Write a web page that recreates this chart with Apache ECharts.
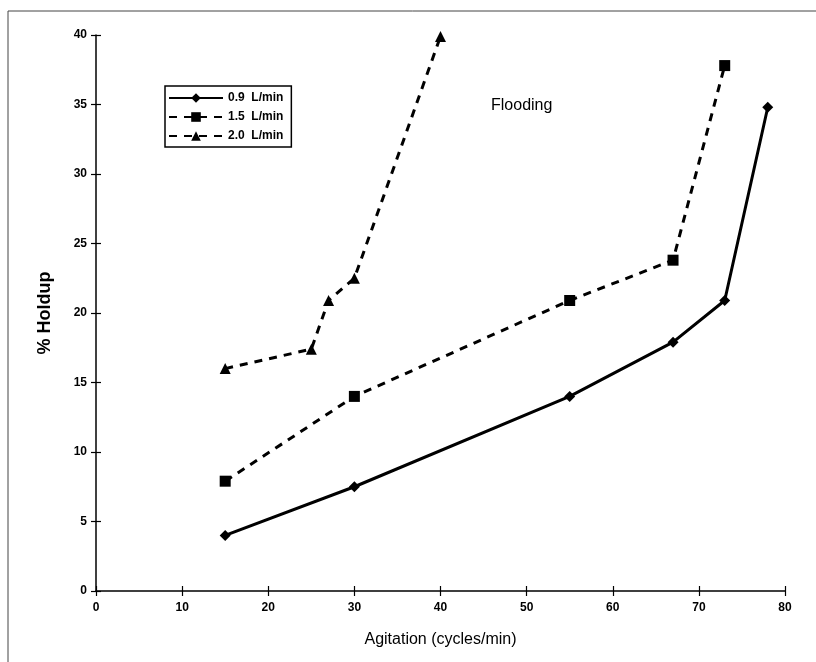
<!DOCTYPE html>
<html>
<head>
<meta charset="utf-8">
<script src="https://cdn.jsdelivr.net/npm/echarts@6/dist/echarts.min.js"></script>
<style>
  html, body { margin: 0; padding: 0; background: #fff; }
  #chart { width: 816px; height: 662px; }
</style>
</head>
<body>
<div id="chart"></div>
<script>
// data
const flow09 = [[15, 4.0], [30, 7.5], [55, 14.0], [67, 17.9], [73, 20.9], [78, 34.8]];
const flow15 = [[15, 7.9], [30, 14.0], [55, 20.9], [67, 23.8], [73, 37.8]];
const flow20 = [[15, 16.0], [25, 17.4], [27, 20.9], [30, 22.5], [40, 39.9]];
const seriesNames = ['0.9  L/min', '1.5  L/min', '2.0  L/min'];
const noteText = 'Flooding';

let myChart = echarts.init(document.getElementById('chart'));

const labelFont = { color: '#000', fontFamily: 'Liberation Sans', fontWeight: 'bold', fontSize: 12 };

myChart.setOption({
  animation: false,
  backgroundColor: '#fff',
  grid: { left: 96, right: 31, top: 35, bottom: 71 },
  legend: {
    orient: 'vertical',
    left: 165,
    top: 86,
    itemWidth: 54,
    itemHeight: 12,
    itemGap: 7,
    padding: [6, 8, 5, 3],
    borderColor: '#000',
    borderWidth: 1.5,
    textStyle: labelFont,
    data: seriesNames
  },
  graphic: [
    { type: 'rect', shape: { x: 8, y: 11, width: 830, height: 700 }, style: { fill: 'none', stroke: '#444', lineWidth: 1 }, silent: true },
    { type: 'text', left: 491, top: 98, style: { text: noteText, fill: '#000', font: '16px "Liberation Sans"' } }
  ],
  xAxis: [{
    type: 'value',
    min: 0, max: 80, interval: 10,
    name: 'Agitation (cycles/min)',
    nameLocation: 'middle',
    nameGap: 41,
    nameTextStyle: { color: '#000', fontFamily: 'Liberation Sans', fontSize: 16 },
    axisLine: { lineStyle: { color: '#000', width: 1.5 } },
    axisTick: { show: true, length: 5, lineStyle: { color: '#000', width: 1.2 } },
    axisLabel: Object.assign({ margin: 11 }, labelFont),
    splitLine: { show: false }
  }, {
    type: 'value',
    position: 'bottom',
    min: 0, max: 80, interval: 10,
    axisLine: { show: false },
    axisTick: { show: true, inside: true, length: 5, lineStyle: { color: '#000', width: 1.2 } },
    axisLabel: { show: false },
    splitLine: { show: false }
  }],
  yAxis: [{
    type: 'value',
    min: 0, max: 40, interval: 5,
    name: '% Holdup',
    nameLocation: 'middle',
    nameGap: 42,
    nameTextStyle: { color: '#000', fontFamily: 'Liberation Sans', fontWeight: 'bold', fontSize: 18 },
    axisLine: { lineStyle: { color: '#000', width: 1.5 } },
    axisTick: { show: true, length: 5, lineStyle: { color: '#000', width: 1.2 } },
    axisLabel: Object.assign({ margin: 9 }, labelFont),
    splitLine: { show: false }
  }, {
    type: 'value',
    position: 'left',
    min: 0, max: 40, interval: 5,
    axisLine: { show: false },
    axisTick: { show: true, inside: true, length: 5, lineStyle: { color: '#000', width: 1.2 } },
    axisLabel: { show: false },
    splitLine: { show: false }
  }],
  series: [{
    name: seriesNames[0],
    type: 'line',
    data: flow09,
    symbol: 'diamond',
    symbolSize: 11,
    lineStyle: { color: '#000', width: 3 },
    itemStyle: { color: '#000' }
  }, {
    name: seriesNames[1],
    type: 'line',
    data: flow15,
    symbol: 'rect',
    symbolSize: 11,
    lineStyle: { color: '#000', width: 3, type: [8, 7] },
    itemStyle: { color: '#000' }
  }, {
    name: seriesNames[2],
    type: 'line',
    data: flow20,
    symbol: 'triangle',
    symbolSize: 11,
    lineStyle: { color: '#000', width: 3, type: [8, 7] },
    itemStyle: { color: '#000' }
  }]
});
</script>
</body>
</html>
